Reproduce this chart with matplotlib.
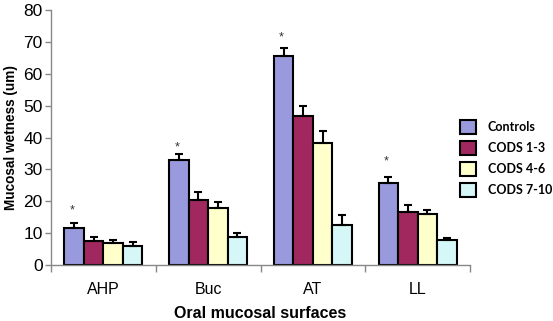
import matplotlib
matplotlib.use("Agg")
import matplotlib.pyplot as plt
import numpy as np

categories = ["AHP", "Buc", "AT", "LL"]
series = ["Controls", "CODS 1-3", "CODS 4-6", "CODS 7-10"]
values = {
    "Controls":  [11.5, 32.8, 65.7, 25.7],
    "CODS 1-3":  [7.6, 20.3, 46.9, 16.7],
    "CODS 4-6":  [7.0, 17.9, 38.3, 15.9],
    "CODS 7-10": [6.0, 8.8, 12.7, 7.8],
}
errors = {
    "Controls":  [1.6, 2.0, 2.3, 1.9],
    "CODS 1-3":  [1.3, 2.7, 3.1, 2.0],
    "CODS 4-6":  [1.0, 1.8, 3.6, 1.3],
    "CODS 7-10": [1.1, 1.1, 2.9, 0.7],
}
star_y = [17.2, 36.8, 71.3, 32.4]
colors = ["#9999dd", "#a0285f", "#ffffcc", "#d6f7f7"]

plt.rcParams["font.family"] = ["Liberation Sans", "DejaVu Sans"]

fig = plt.figure(figsize=(5.53, 3.21), dpi=100)
ax = fig.add_axes([51/553, 1-265/321, (470-51)/553, (265-10)/321])

x = np.arange(len(categories))
w = 0.186
for i, s in enumerate(series):
    pos = x + (i - 1.5) * w
    ax.bar(pos, values[s], width=w, color=colors[i], edgecolor="black",
           linewidth=1.5, label=s, zorder=2)
    ax.errorbar(pos, values[s], yerr=[np.zeros(len(categories)), errors[s]],
                fmt="none", ecolor="black", elinewidth=1.5, capsize=3,
                capthick=1.5, zorder=3)

for xi, sy in zip(x, star_y):
    ax.text(xi - 1.5 * w - 0.02, sy, "*", ha="center", va="center",
            fontsize=9, color="#333333")

ax.set_xlim(-0.5, 3.5)
ax.set_ylim(0, 80)
ax.set_yticks(np.arange(0, 81, 10))
ax.set_xticks(x)
ax.set_xticklabels(categories, fontsize=11.5)
ax.set_xticks(np.arange(-0.5, 4.0, 1.0), minor=True)
ax.tick_params(axis="x", which="major", length=0, pad=12)
ax.tick_params(axis="x", which="minor", length=5, color="#888888", width=1)
ax.tick_params(axis="y", labelsize=12.5, length=4, color="#888888", width=1, pad=2)

for sp in ["top", "right"]:
    ax.spines[sp].set_visible(False)
for sp in ["left", "bottom"]:
    ax.spines[sp].set_color("#888888")
    ax.spines[sp].set_linewidth(1)

ax.set_ylabel("Mucosal wetness (um)", fontsize=9.8, fontweight="bold", labelpad=4)
ax.set_xlabel("Oral mucosal surfaces", fontsize=11.5, fontweight="bold", labelpad=7)

fig.legend(loc="upper left", bbox_to_anchor=(455/553, 1-115/321), frameon=False,
           prop={"family": ["Lato", "DejaVu Sans"], "weight": "bold", "size": 9},
           handlelength=1.3, handleheight=1.3,
           labelspacing=0.6, handletextpad=0.9, borderaxespad=0)

fig.savefig("out.png", dpi=100)
